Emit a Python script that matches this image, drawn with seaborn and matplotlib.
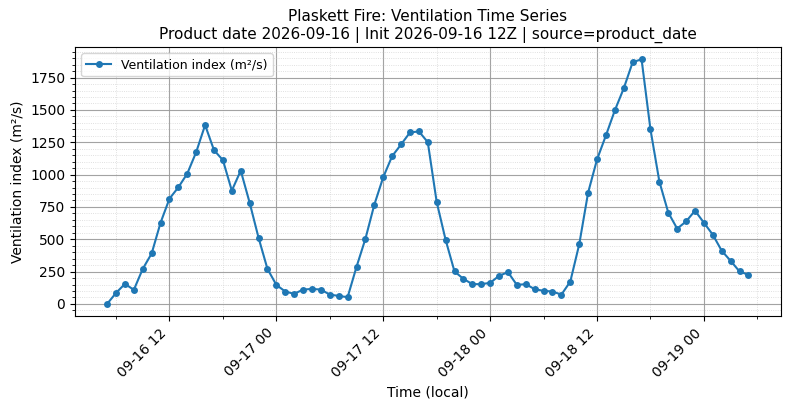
import numpy as np
import pandas as pd
import matplotlib
matplotlib.use("Agg")
import matplotlib.pyplot as plt
import matplotlib.dates as mdates
from matplotlib.ticker import AutoMinorLocator
import seaborn as sns

# Hourly local times, 09-16 05:00 to 09-19 05:00
start_time = "2026-09-16 05:00"
n_hours = 73

vent_index = [
    0, 85, 155, 109, 271, 390, 628, 814, 902, 1008, 1174, 1383,
    1189, 1112, 876, 1031, 783, 512, 271, 147, 96, 78, 111, 116,
    111, 72, 62, 52, 287, 504, 768, 980, 1143, 1233, 1326, 1334,
    1251, 788, 496, 251, 194, 153, 153, 163, 217, 246, 147, 153,
    114, 101, 96, 72, 173, 460, 861, 1117, 1303, 1497, 1667, 1869,
    1892, 1349, 946, 706, 582, 638, 721, 628, 535, 411, 333, 251,
    225,
]

title_lines = [
    "Plaskett Fire: Ventilation Time Series",
    "Product date 2026-09-16 | Init 2026-09-16 12Z | source=product_date",
]
series_label = "Ventilation index (m²/s)"

times = pd.date_range(start_time, periods=n_hours, freq="h")
df = pd.DataFrame({"time": times, "vi": vent_index})

fig, ax = plt.subplots(figsize=(7.9, 4.09), dpi=100)
sns.lineplot(data=df, x="time", y="vi", ax=ax, marker="o", markersize=5,
             markeredgewidth=0, linewidth=1.5, color="#1f77b4", label=series_label)

ax.xaxis.set_major_locator(mdates.HourLocator(byhour=[0, 12]))
ax.xaxis.set_minor_locator(mdates.HourLocator(byhour=[0, 6, 12, 18]))
ax.xaxis.set_major_formatter(mdates.DateFormatter("%m-%d %H"))
ax.yaxis.set_minor_locator(AutoMinorLocator())

ax.grid(True, which="major", color="#999999", linewidth=0.8, alpha=0.9)
ax.grid(True, which="minor", color="#cccccc", linestyle=":", linewidth=0.6, alpha=0.8)

plt.setp(ax.get_xticklabels(), rotation=45, ha="right")
ax.set_xlabel("Time (local)")
ax.set_ylabel("Ventilation index (m²/s)")
ax.set_title("\n".join(title_lines), fontsize=11)
ax.legend(loc="upper left", fontsize=9)

fig.subplots_adjust(left=0.095, right=0.988, top=0.885, bottom=0.227)
fig.savefig("out.png", dpi=100)
